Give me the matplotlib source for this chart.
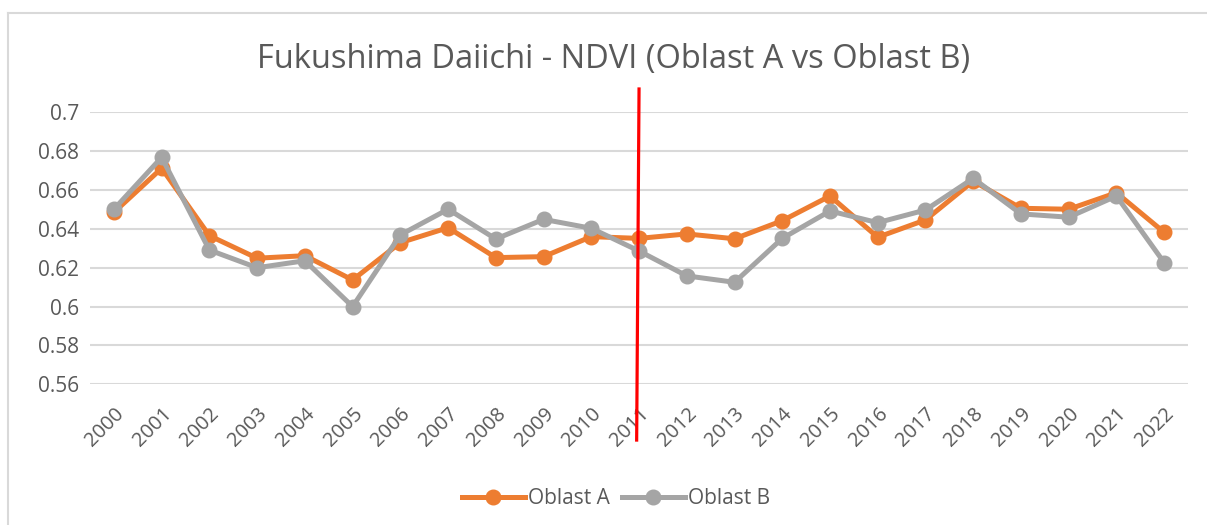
import numpy as np
import matplotlib
matplotlib.use('Agg')
import matplotlib.pyplot as plt
from matplotlib.lines import Line2D

years = [str(y) for y in range(2000, 2023)]
oblast_a = [0.6485, 0.6712, 0.6365, 0.6249, 0.6262, 0.6137, 0.6329, 0.6406,
            0.6252, 0.6257, 0.6360, 0.6351, 0.6374, 0.6349, 0.6442, 0.6569,
            0.6357, 0.6446, 0.6646, 0.6506, 0.6501, 0.6586, 0.6382]
oblast_b = [0.6501, 0.6768, 0.6291, 0.6200, 0.6236, 0.6000, 0.6369, 0.6501,
            0.6348, 0.6449, 0.6403, 0.6286, 0.6158, 0.6125, 0.6351, 0.6492,
            0.6432, 0.6497, 0.6660, 0.6477, 0.6460, 0.6569, 0.6226]
yticks = [0.56, 0.58, 0.6, 0.62, 0.64, 0.66, 0.68, 0.7]
ytick_labels = ['0.56', '0.58', '0.6', '0.62', '0.64', '0.66', '0.68', '0.7']

plt.rcParams['font.family'] = ['Open Sans', 'DejaVu Sans']
txt = '#595959'

fig = plt.figure(figsize=(12.07, 5.25), dpi=100)
ax = fig.add_axes([0.0746, 0.268, 0.9097, 0.5181])

x = np.arange(len(years))
ax.plot(x, oblast_a, '-o', color='#ED7D31', lw=3.6, markersize=10.5, label='Oblast A', zorder=3)
ax.plot(x, oblast_b, '-o', color='#A5A5A5', lw=3.6, markersize=10.5, label='Oblast B', zorder=4)

ax.set_xlim(-0.5, len(years) - 0.5)
ax.set_ylim(0.56, 0.7)
ax.set_yticks(yticks)
ax.set_yticklabels(ytick_labels, fontsize=15, color=txt)
ax.set_xticks(x)
ax.set_xticklabels(years, fontsize=14.5, color=txt, rotation=45, ha='right',
                   va='top', rotation_mode='anchor')
ax.tick_params(length=0, pad=8)
ax.tick_params(axis='x', pad=14)
ax.grid(axis='y', color='#D9D9D9', lw=1.5)
ax.set_axisbelow(True)
for s in ax.spines.values():
    s.set_visible(False)

# red marker line at 2011
ax.plot([11.0, 10.95], [0.712, 0.5313], color='#FF0000', lw=2.3, clip_on=False, zorder=5)

fig.text(0.508, 0.887, 'Fukushima Daiichi - NDVI (Oblast A vs Oblast B)',
         ha='center', va='center', fontsize=23.5, color=txt)

ax.legend(loc='center', bbox_to_anchor=(0.479, -0.42), ncol=2, frameon=False,
          fontsize=15, labelcolor=txt, handlelength=3.0, columnspacing=0.6,
          handletextpad=0.15)

# chart border (left and top edges visible)
fig.add_artist(Line2D([8 / 1207, 8 / 1207], [0, 1 - 13 / 525], color='#D9D9D9', lw=1.5))
fig.add_artist(Line2D([8 / 1207, 1], [1 - 13 / 525, 1 - 13 / 525], color='#D9D9D9', lw=1.5))

fig.savefig('out.png', dpi=100)
